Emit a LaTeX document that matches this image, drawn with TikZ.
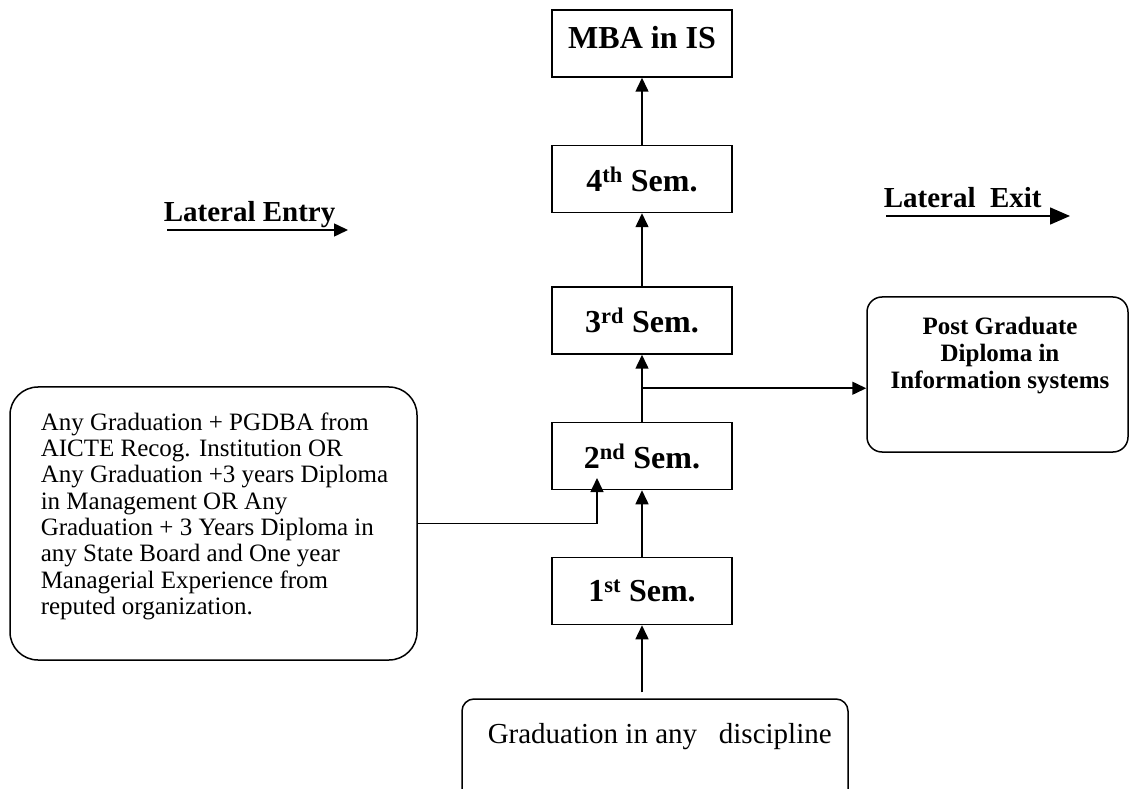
\documentclass[tikz,border=0pt]{standalone}
\usepackage{fontspec}
\setmainfont{Liberation Serif}
\usepackage{tikz}
\usetikzlibrary{arrows.meta,calc}

\newcommand{\sembf}{\fontsize{32}{36}\selectfont\bfseries}
\newcommand{\bigbf}{\fontsize{29}{33}\selectfont\bfseries}
\newcommand{\bigrm}{\fontsize{29}{33}\selectfont}
\newcommand{\smallrm}{\fontsize{25}{26.3}\selectfont}
\newcommand{\smallbf}{\fontsize{25}{27}\selectfont\bfseries}

\begin{document}
\begin{tikzpicture}[x=1pt,y=1pt,line width=1.5pt,
    sem/.style={draw, minimum width=180pt, minimum height=67pt, inner sep=0pt, font=\sembf},
    roundbox/.style={draw, rounded corners=#1, inner sep=0pt},
    roundbox/.default=12pt,
    arr/.style={-{Triangle[length=14pt,width=13pt]}},
    bigarr/.style={-{Triangle[length=20pt,width=17pt]}}]
             \useasboundingbox (0,0) rectangle (1129,788);

             % semesters
             \node[sem, text depth=12pt] (mba) at (642,744.5) {MBA in IS};
             \node[sem] (sem4) at (642,609) {4\textsuperscript{th} Sem.};
             \node[sem] (sem3) at (642,467.5) {3\textsuperscript{rd} Sem.};
             \node[sem] (sem2) at (642,332) {2\textsuperscript{nd} Sem.};
             \node[sem] (sem1) at (642,197) {1\textsuperscript{st} Sem.};

             \node[roundbox, minimum width=386pt, minimum height=106pt] (grad) at (655,36) {};
             \node[font=\bigrm, anchor=base west, inner sep=0pt] (gradtext) at (487,45) {Graduation in any~~~discipline};

             \node[roundbox=28pt, minimum width=407pt, minimum height=273pt] (entry) at (213.5,264.5) {};
             \node[font=\smallrm, align=left, anchor=north west, inner sep=0pt] (entrytext) at (40,376)
               {Any Graduation + PGDBA from\\
                AICTE Recog. Institution OR\\
                Any Graduation +3 years Diploma\\
                in Management OR Any\\
                Graduation + 3 Years Diploma in\\
                any State Board and One year\\
                Managerial Experience from\\
                reputed organization.};

             \node[roundbox=15pt, minimum width=261pt, minimum height=155pt] (pgd) at (997.5,413.5) {};
             \node[font=\smallbf, align=center, anchor=north, inner sep=0pt] (pgdtext) at (1000,472)
               {Post Graduate\\ Diploma in\\ Information systems};

             \node[font=\bigbf, anchor=base west, inner sep=0pt] (lentry) at (163,566) {Lateral Entry};
             \node[font=\bigbf, anchor=base west, inner sep=0pt] (lexit) at (883,580) {Lateral~~Exit};

             % arrows
             \draw[arr] ([yshift=6pt]sem1.south |- grad.north) -- (sem1.south);
             \draw[arr] (sem1) -- (sem2);
             \draw[arr] (sem2) -- (sem3);
             \draw[arr] (sem3) -- (sem4);
             \draw[arr] (sem4) -- (mba);

             \coordinate (split) at ($(sem2.north)!.5!(sem3.south)$);
             \draw[arr] (split) -- (split -| pgd.west);

             \coordinate (entrytip) at (597,310);
             \draw[arr] (entry.east) -| (entrytip);

             \coordinate (lentryA) at (167,558);
             \coordinate (lentryB) at (348,558);
             \draw[arr] (lentryA) -- (lentryB);
             \coordinate (lexitA) at (886,572);
             \coordinate (lexitB) at (1070,572);
             \draw[bigarr] (lexitA) -- (lexitB);
             \end{tikzpicture}
\end{document}
